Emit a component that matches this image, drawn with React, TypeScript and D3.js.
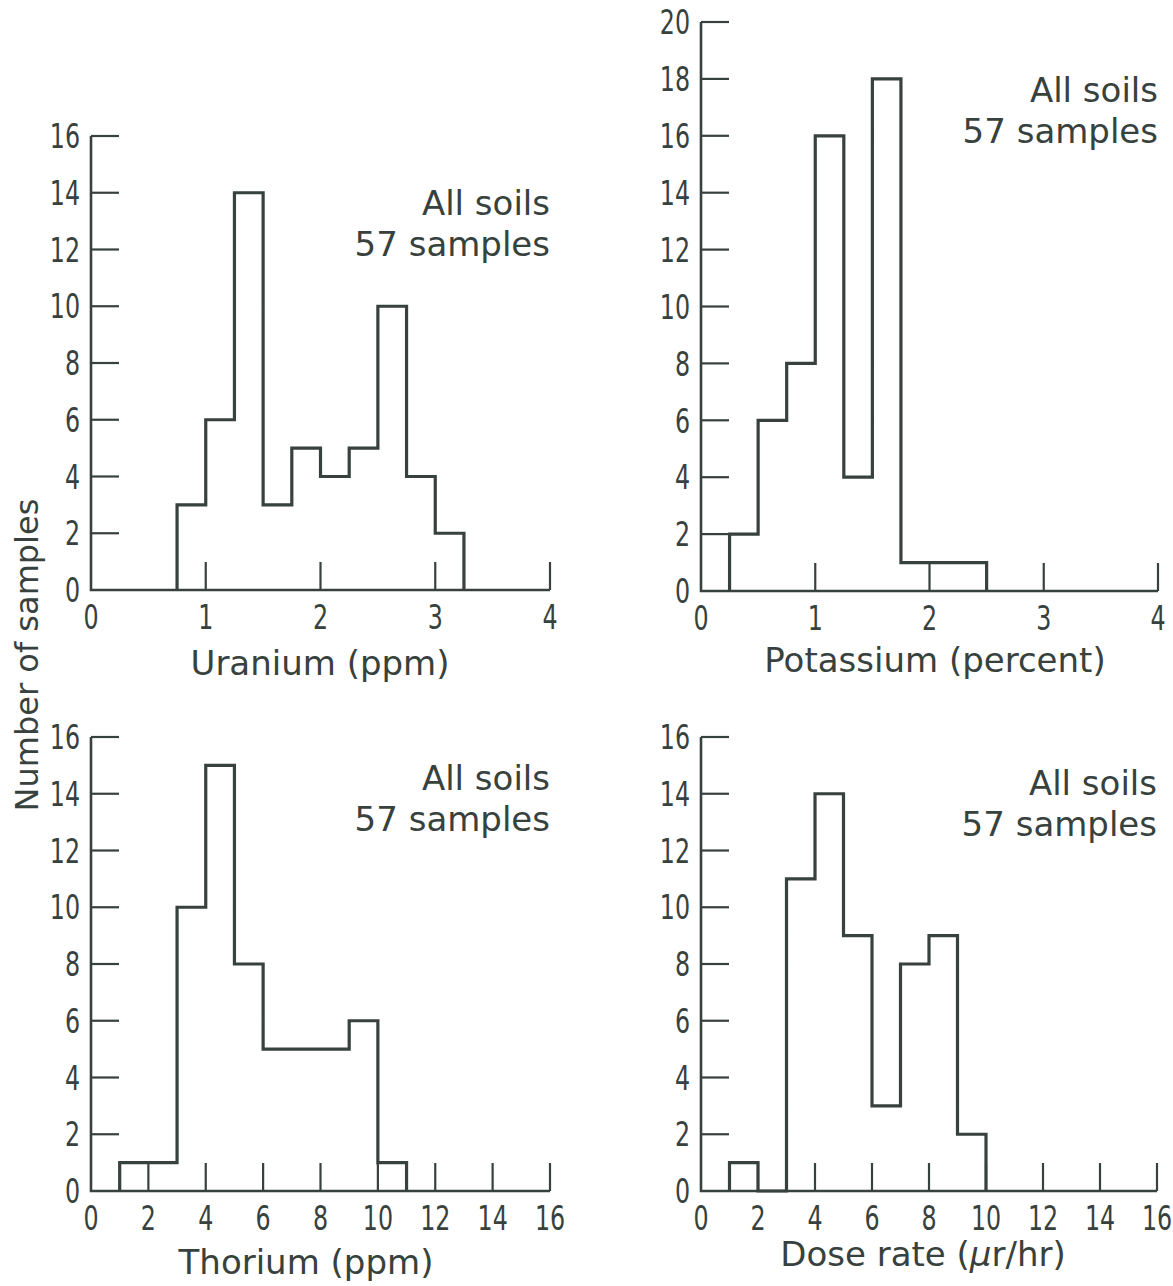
import React from "react";
import * as d3 from "d3";

// ---- data ----
const uraniumEdges = [0.75, 1.0, 1.25, 1.5, 1.75, 2.0, 2.25, 2.5, 2.75, 3.0, 3.25];
const uraniumCounts = [3, 6, 14, 3, 5, 4, 5, 10, 4, 2];

const potassiumEdges = [0.25, 0.5, 0.75, 1.0, 1.25, 1.5, 1.75, 2.0, 2.25, 2.5];
const potassiumCounts = [2, 6, 8, 16, 4, 18, 1, 1, 1];

const thoriumEdges = [1, 2, 3, 4, 5, 6, 7, 8, 9, 10, 11];
const thoriumCounts = [1, 1, 10, 15, 8, 5, 5, 5, 6, 1];

const doseEdges = [1, 2, 3, 4, 5, 6, 7, 8, 9, 10];
const doseCounts = [1, 0, 11, 14, 9, 3, 8, 9, 2];

const xTicksSmall = [0, 1, 2, 3, 4];
const xTicksLarge = [0, 2, 4, 6, 8, 10, 12, 14, 16];
const yTicks16 = [0, 2, 4, 6, 8, 10, 12, 14, 16];
const yTicks20 = [0, 2, 4, 6, 8, 10, 12, 14, 16, 18, 20];

const note1 = "All soils";
const note2 = "57 samples";
const yTitle = "Number of samples";

const INK = "#37413d";
const LABEL_FONT = "'DejaVu Sans', sans-serif";
const TICK_FONT = "'DejaVu Sans Condensed', 'DejaVu Sans', sans-serif";
const TICK_SQUEEZE = 0.8;

type PanelProps = {
  edges: number[];
  counts: number[];
  xDomain: [number, number];
  yDomain: [number, number];
  xRange: [number, number];
  yRange: [number, number];
  xTicks: number[];
  yTicks: number[];
  title: React.ReactNode;
  titleX: number;
  titleY: number;
  noteY: number;
};

function Panel(p: PanelProps) {
  const x = d3.scaleLinear().domain(p.xDomain).range(p.xRange);
  const y = d3.scaleLinear().domain(p.yDomain).range(p.yRange);
  const pts: [number, number][] = [];
  pts.push([x(p.edges[0]), y(0)]);
  p.counts.forEach((c, i) => {
    pts.push([x(p.edges[i]), y(c)]);
    pts.push([x(p.edges[i + 1]), y(c)]);
  });
  pts.push([x(p.edges[p.edges.length - 1]), y(0)]);
  const line = d3.line();
  const tickLen = 28;
  const x0 = p.xRange[0];
  const x1 = p.xRange[1];
  const yb = p.yRange[0];
  const yt = p.yRange[1];
  return (
    <g>
      <path
        d={`M${x0},${yt}L${x0},${yb}L${x1},${yb}`}
        fill="none"
        stroke={INK}
        strokeWidth={2.6}
      />
      {p.yTicks.filter((t) => t !== 0).map((t) => (
        <line key={"yt" + t} x1={x0} x2={x0 + tickLen} y1={y(t)} y2={y(t)} stroke={INK} strokeWidth={2.2} />
      ))}
      {p.xTicks.filter((t) => t !== 0).map((t) => (
        <line key={"xt" + t} x1={x(t)} x2={x(t)} y1={yb} y2={yb - tickLen} stroke={INK} strokeWidth={2.2} />
      ))}
      {p.yTicks.map((t) => (
        <text
          key={"yl" + t}
          transform={`translate(${x0 - 11},${y(t)}) scale(${TICK_SQUEEZE},1)`}
          dy="0.37em"
          textAnchor="end"
          fontFamily={TICK_FONT}
          fontSize={33}
          fill={INK}
        >
          {t}
        </text>
      ))}
      {p.xTicks.map((t) => (
        <text
          key={"xl" + t}
          transform={`translate(${x(t)},${yb + 39}) scale(${TICK_SQUEEZE},1)`}
          textAnchor="middle"
          fontFamily={TICK_FONT}
          fontSize={33}
          fill={INK}
        >
          {t}
        </text>
      ))}
      <path d={line(pts) || ""} fill="none" stroke={INK} strokeWidth={3.2} strokeLinejoin="miter" />
      <text x={p.titleX} y={p.titleY} textAnchor="middle" fontFamily={LABEL_FONT} fontSize={34} fill={INK}>
        {p.title}
      </text>
      <text x={x1} y={p.noteY} textAnchor="end" fontFamily={LABEL_FONT} fontSize={34} fill={INK}>
        {note1}
      </text>
      <text x={x1} y={p.noteY + 41} textAnchor="end" fontFamily={LABEL_FONT} fontSize={34} fill={INK}>
        {note2}
      </text>
    </g>
  );
}

export default function App() {
  return (
    <div style={{ position: "absolute", left: 0, top: 0 }}>
      <svg width={1173} height={1286} style={{ display: "block", background: "#ffffff" }}>
        <Panel
          edges={uraniumEdges}
          counts={uraniumCounts}
          xDomain={[0, 4]}
          yDomain={[0, 16]}
          xRange={[91, 550]}
          yRange={[590, 136]}
          xTicks={xTicksSmall}
          yTicks={yTicks16}
          title="Uranium (ppm)"
          titleX={320}
          titleY={675}
          noteY={215}
        />
        <Panel
          edges={potassiumEdges}
          counts={potassiumCounts}
          xDomain={[0, 4]}
          yDomain={[0, 20]}
          xRange={[701, 1158]}
          yRange={[591, 22]}
          xTicks={xTicksSmall}
          yTicks={yTicks20}
          title="Potassium (percent)"
          titleX={935}
          titleY={672}
          noteY={102}
        />
        <Panel
          edges={thoriumEdges}
          counts={thoriumCounts}
          xDomain={[0, 16]}
          yDomain={[0, 16]}
          xRange={[91, 550]}
          yRange={[1191, 737]}
          xTicks={xTicksLarge}
          yTicks={yTicks16}
          title="Thorium (ppm)"
          titleX={306}
          titleY={1274}
          noteY={790}
        />
        <Panel
          edges={doseEdges}
          counts={doseCounts}
          xDomain={[0, 16]}
          yDomain={[0, 16]}
          xRange={[701, 1157]}
          yRange={[1191, 737]}
          xTicks={xTicksLarge}
          yTicks={yTicks16}
          title={
            <>
              {"Dose rate ("}
              <tspan fontStyle="italic">μ</tspan>
              {"r/hr)"}
            </>
          }
          titleX={923}
          titleY={1266}
          noteY={795}
        />
        <text
          transform="translate(38,655) rotate(-90)"
          textAnchor="middle"
          fontFamily={LABEL_FONT}
          fontSize={32}
          fill={INK}
        >
          {yTitle}
        </text>
      </svg>
    </div>
  );
}
